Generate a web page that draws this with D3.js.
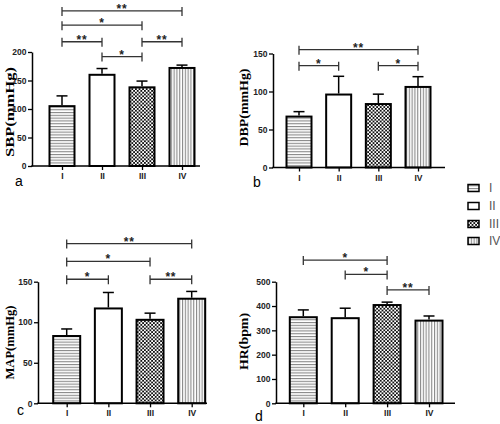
<!DOCTYPE html>
<html>
<head>
<meta charset="utf-8">
<script src="https://cdn.jsdelivr.net/npm/d3@7"></script>
<style>
  html, body { margin: 0; padding: 0; background: #fff; }
  svg { display: block; }
</style>
</head>
<body>
<svg id="chart" width="500" height="424"></svg>
<script>
// ---- data ----
const groups = ["I", "II", "III", "IV"];
const sbpMean = [105, 160, 138, 172];
const sbpSD   = [18, 11, 11, 5];
const dbpMean = [67, 96, 83.5, 106];
const dbpSD   = [6.5, 24, 13, 13.5];
const mapMean = [83, 117, 103, 129];
const mapSD   = [8.7, 19.7, 8.2, 9];
const hrMean  = [354, 350, 404, 340];
const hrSD    = [30, 41, 12, 19];
const sbpTicks = [0, 50, 100, 150, 200];
const dbpTicks = [0, 50, 100, 150];
const mapTicks = [0, 50, 100, 150];
const hrTicks  = [0, 100, 200, 300, 400, 500];
// significance brackets: [from, to, label, level (data units)]
const sbpSig = [["I","IV","**",272],["I","III","*",247],["I","II","**",218],["III","IV","**",218],["II","III","*",192]];
const dbpSig = [["I","IV","**",155],["I","II","*",134],["III","IV","*",134]];
const mapSig = [["I","IV","**",197],["I","III","*",175],["I","II","*",153],["III","IV","**",153]];
const hrSig  = [["I","III","*",589],["II","III","*",530],["III","IV","**",466]];
const legendLabels = ["I", "II", "III", "IV"];

const svg = d3.select("#chart");
const defs = svg.append("defs");

// patterns
const pH = defs.append("pattern").attr("id","pH").attr("patternUnits","userSpaceOnUse").attr("width",4).attr("height",2.8);
pH.append("rect").attr("width",4).attr("height",2.8).attr("fill","#fff");
pH.append("rect").attr("y",0).attr("width",4).attr("height",1.1).attr("fill","#8a8a8a");
const pV = defs.append("pattern").attr("id","pV").attr("patternUnits","userSpaceOnUse").attr("width",2.8).attr("height",4);
pV.append("rect").attr("width",2.8).attr("height",4).attr("fill","#fff");
pV.append("rect").attr("x",0).attr("width",1.1).attr("height",4).attr("fill","#8a8a8a");
const pC = defs.append("pattern").attr("id","pC").attr("patternUnits","userSpaceOnUse").attr("width",3.6).attr("height",3.6);
pC.append("rect").attr("width",3.6).attr("height",3.6).attr("fill","#fff");
pC.append("rect").attr("width",1.8).attr("height",1.8).attr("fill","#111");
pC.append("rect").attr("x",1.8).attr("y",1.8).attr("width",1.8).attr("height",1.8).attr("fill","#111");
const fills = ["url(#pH)", "#fff", "url(#pC)", "url(#pV)"];

const sansFont = "'Liberation Sans', Arial, sans-serif";
const serifFont = "'Liberation Serif', 'Times New Roman', serif";

function panel(cfg) {
  const g = svg.append("g");
  const y = d3.scaleLinear().domain([0, cfg.ticks[cfg.ticks.length-1]]).range([cfg.y0, cfg.yTop]);
  const x = d3.scalePoint().domain(groups).range([cfg.c0, cfg.c1]);
  const bw = cfg.bw;

  // bars
  g.selectAll("rect.bar").data(groups).join("rect")
    .attr("class","bar")
    .attr("x", d => x(d) - bw/2)
    .attr("y", (d,i) => y(cfg.mean[i]))
    .attr("width", bw)
    .attr("height", (d,i) => y(0) - y(cfg.mean[i]))
    .attr("fill", (d,i) => fills[i])
    .attr("stroke", "#000").attr("stroke-width", 2);

  // error bars
  const eb = g.selectAll("g.err").data(groups).join("g").attr("class","err");
  eb.append("line")
    .attr("x1", d => x(d)).attr("x2", d => x(d))
    .attr("y1", (d,i) => y(cfg.mean[i]) - 1)
    .attr("y2", (d,i) => y(cfg.mean[i] + cfg.sd[i]))
    .attr("stroke","#000").attr("stroke-width",1.5);
  eb.append("line")
    .attr("x1", d => x(d) - 5.5).attr("x2", d => x(d) + 5.5)
    .attr("y1", (d,i) => y(cfg.mean[i] + cfg.sd[i]))
    .attr("y2", (d,i) => y(cfg.mean[i] + cfg.sd[i]))
    .attr("stroke","#000").attr("stroke-width",1.5);

  // y axis
  const ya = g.append("g").attr("transform", `translate(${cfg.ox},0)`)
    .call(d3.axisLeft(y).tickValues(cfg.ticks).tickSize(4).tickSizeOuter(0).tickPadding(1.5));
  ya.select(".domain").attr("stroke","#000").attr("stroke-width",1.5);
  ya.selectAll(".tick line").attr("stroke","#000").attr("stroke-width",1.3);
  ya.selectAll(".tick text").attr("font-family", sansFont).attr("font-weight","bold").attr("font-size", 8.5).attr("fill","#222");

  // x axis
  const xa = g.append("g").attr("transform", `translate(0,${cfg.y0})`)
    .call(d3.axisBottom(x).tickSize(4).tickPadding(3));
  xa.select(".domain").remove();
  xa.selectAll(".tick line").attr("stroke","#000").attr("stroke-width",1.3);
  xa.selectAll(".tick text").attr("font-family", sansFont).attr("font-weight","bold").attr("font-size", 8.5).attr("fill","#222");
  g.append("line").attr("x1", cfg.ox - 0.75).attr("x2", cfg.axisEnd)
    .attr("y1", cfg.y0).attr("y2", cfg.y0).attr("stroke","#000").attr("stroke-width",1.5);

  // y label
  g.append("text")
    .attr("transform", `translate(${cfg.lx},${cfg.ly}) rotate(-90)`)
    .attr("text-anchor","middle").attr("dominant-baseline","central")
    .attr("font-family", serifFont).attr("font-weight","bold").attr("font-size", 13.5)
    .attr("textLength", cfg.lLen).attr("lengthAdjust","spacingAndGlyphs")
    .attr("fill","#000")
    .text(cfg.label);

  // panel letter
  g.append("text").attr("x", cfg.px).attr("y", cfg.py)
    .attr("font-family", sansFont).attr("font-size", 14).attr("fill","#000")
    .text(cfg.letter);

  // significance brackets
  const sg = g.selectAll("g.sig").data(cfg.sig).join("g").attr("class","sig");
  sg.append("line")
    .attr("x1", d => x(d[0])).attr("x2", d => x(d[1]))
    .attr("y1", d => y(d[3])).attr("y2", d => y(d[3]))
    .attr("stroke","#333").attr("stroke-width",1.3);
  sg.append("line")
    .attr("x1", d => x(d[0])).attr("x2", d => x(d[0]))
    .attr("y1", d => y(d[3]) - 4).attr("y2", d => y(d[3]) + 5)
    .attr("stroke","#333").attr("stroke-width",1.3);
  sg.append("line")
    .attr("x1", d => x(d[1])).attr("x2", d => x(d[1]))
    .attr("y1", d => y(d[3]) - 4).attr("y2", d => y(d[3]) + 5)
    .attr("stroke","#333").attr("stroke-width",1.3);
  sg.append("text")
    .attr("x", d => (x(d[0]) + x(d[1])) / 2)
    .attr("y", d => y(d[3]) + 2)
    .attr("text-anchor","middle")
    .attr("font-family", sansFont).attr("font-weight","bold").attr("font-size", 12)
    .attr("letter-spacing", 0.8)
    .attr("fill","#222")
    .text(d => d[2]);
}

panel({ mean: sbpMean, sd: sbpSD, ticks: sbpTicks, sig: sbpSig, label: "SBP(mmHg)", letter: "a",
  ox: 32, y0: 166, yTop: 52, c0: 62, c1: 182, bw: 25, axisEnd: 200,
  lx: 9, ly: 112, lLen: 90, px: 15, py: 186 });
panel({ mean: dbpMean, sd: dbpSD, ticks: dbpTicks, sig: dbpSig, label: "DBP(mmHg)", letter: "b",
  ox: 273, y0: 167.5, yTop: 53.5, c0: 299, c1: 418, bw: 25, axisEnd: 445,
  lx: 243, ly: 107.5, lLen: 78, px: 253, py: 187 });
panel({ mean: mapMean, sd: mapSD, ticks: mapTicks, sig: mapSig, label: "MAP(mmHg)", letter: "c",
  ox: 38, y0: 403.3, yTop: 281.7, c0: 66.7, c1: 191.7, bw: 27, axisEnd: 207,
  lx: 9, ly: 342.5, lLen: 74, px: 17, py: 415 });
panel({ mean: hrMean, sd: hrSD, ticks: hrTicks, sig: hrSig, label: "HR(bpm)", letter: "d",
  ox: 276, y0: 403.3, yTop: 281.7, c0: 303.3, c1: 429, bw: 27, axisEnd: 455,
  lx: 243, ly: 341.5, lLen: 57, px: 255, py: 421 });

// legend
const lg = svg.append("g");
const rows = lg.selectAll("g").data(legendLabels).join("g")
  .attr("transform", (d,i) => `translate(468,${[188, 206, 224, 241][i]})`);
rows.append("rect").attr("x",0).attr("y",-3.5).attr("width",11).attr("height",7)
  .attr("fill", (d,i) => fills[i]).attr("stroke","#000").attr("stroke-width",1.5);
rows.append("text").attr("x",21).attr("y",0).attr("dominant-baseline","central")
  .attr("font-family", sansFont).attr("font-size",12).attr("fill","#555")
  .text(d => d);
</script>
</body>
</html>
